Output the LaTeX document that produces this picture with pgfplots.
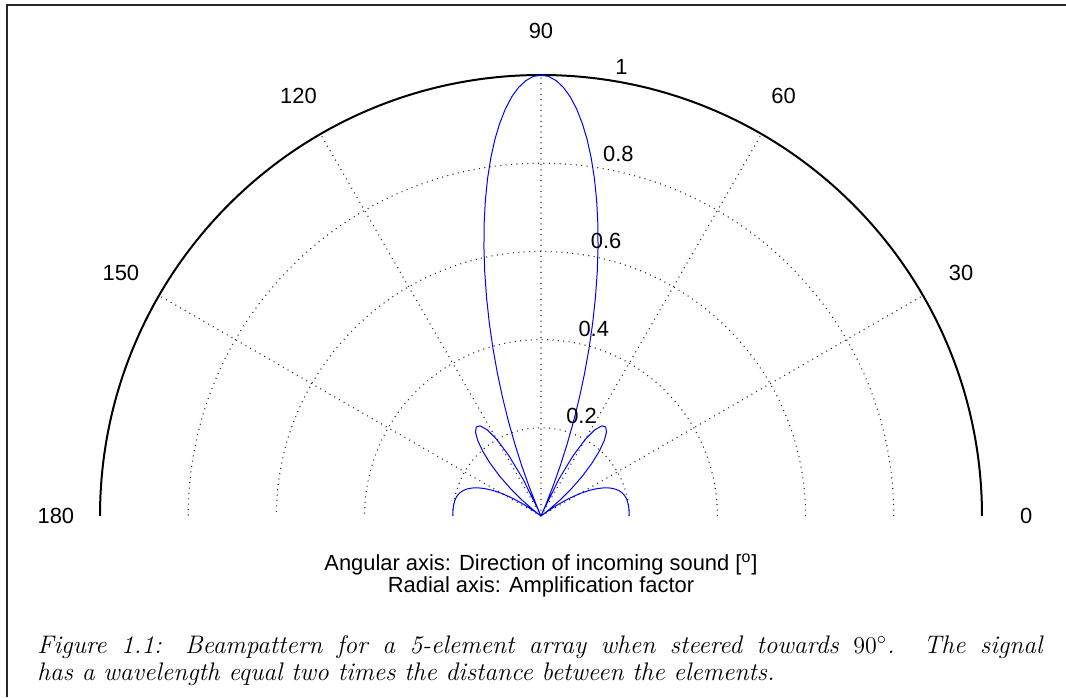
\documentclass[border=0pt]{standalone}
\usepackage{pgfplots}
\pgfplotsset{compat=1.18}
\usepgfplotslibrary{polar}
\usepackage{fontspec}
\newfontfamily\helv{Liberation Sans}
\newcommand\lab{\helv\fontsize{10.95}{13}\selectfont}
\pgfplotstableread{
theta r
0 0.2000
2 0.2000
4 0.2000
6 0.1998
8 0.1994
10 0.1986
12 0.1972
14 0.1948
16 0.1912
18 0.1860
20 0.1788
22 0.1693
24 0.1571
26 0.1419
28 0.1234
30 0.1014
32 0.0758
34 0.0469
36 0.0148
36.87 0
38 0.0199
40 0.0565
42 0.0939
44 0.1309
46 0.1659
48 0.1973
50 0.2230
52 0.2411
54 0.2496
56 0.2466
58 0.2305
60 0.2000
62 0.1543
64 0.0934
66 0.0177
66.42 0
67 0.0253
68 0.0714
69 0.1203
70 0.1719
71 0.2255
72 0.2809
73 0.3377
74 0.3949
75 0.4527
76 0.5102
77 0.5669
78 0.6221
79 0.6757
80 0.7266
81 0.7746
82 0.8190
83 0.8596
84 0.8954
85 0.9266
86 0.9526
87 0.9731
88 0.9878
89 0.9969
90 1.0000
91 0.9969
92 0.9878
93 0.9731
94 0.9526
95 0.9266
96 0.8954
97 0.8596
98 0.8190
99 0.7746
100 0.7266
101 0.6757
102 0.6221
103 0.5669
104 0.5102
105 0.4527
106 0.3949
107 0.3377
108 0.2809
109 0.2255
110 0.1719
111 0.1203
112 0.0714
113 0.0253
113.58 0
114 0.0177
116 0.0934
118 0.1543
120 0.2000
122 0.2305
124 0.2466
126 0.2496
128 0.2411
130 0.2230
132 0.1973
134 0.1659
136 0.1309
138 0.0939
140 0.0565
142 0.0199
143.13 0
144 0.0148
146 0.0469
148 0.0758
150 0.1014
152 0.1234
154 0.1419
156 0.1571
158 0.1693
160 0.1788
162 0.1860
164 0.1912
166 0.1948
168 0.1972
170 0.1986
172 0.1994
174 0.1998
176 0.2000
178 0.2000
180 0.2000
}\beampattern
\begin{document}
\begin{tikzpicture}
\path[use as bounding box] (0,0) rectangle (533pt,348.5pt);
\draw[line width=0.8pt, black!85] (3.5pt,0) -- (3.5pt,346pt) -- (533pt,346pt);
\begin{polaraxis}[
  at={(270.5pt,90.5pt)}, anchor=origin,
  scale only axis, width=441pt, height=441pt,
  xmin=0, xmax=180, ymin=0, ymax=1,
  xtick={30,60,90,120,150},
  ytick={0.2,0.4,0.6,0.8},
  xticklabels={}, yticklabels={},
  major tick length=0pt,
  xmajorgrids, ymajorgrids,
  major grid style={black!85, line width=0.55pt, dash pattern=on 0.5pt off 2.2pt},
  x axis line style={black, line width=1pt},
  y axis line style={draw=none},
  clip=false,
]
\addplot[blue, line width=0.5pt] table[x=theta, y=r] {\beampattern};
\foreach \a in {0,30,...,180} {
  \edef\temp{\noexpand\node[inner sep=0, font=\noexpand\lab] at (axis cs:\a,1.1) {\a};}
  \temp
}
\foreach \r/\l in {0.2/0.2,0.4/0.4,0.6/0.6,0.8/0.8,1/1} {
  \edef\temp{\noexpand\node[anchor=south west, inner sep=0, xshift=6pt, font=\noexpand\lab] at (axis cs:82,\r+0.01) {\l};}
  \temp
}
\end{polaraxis}
\node[anchor=base, inner sep=0, font=\lab] at (270.5pt,63.5pt) {Angular axis: Direction of incoming sound [\textsuperscript{o}]};
\node[anchor=base, inner sep=0, font=\lab] at (270.5pt,52.5pt) {Radial axis: Amplification factor};
\node[anchor=base west, inner sep=0, font=\fontsize{12.7}{14}\selectfont\itshape] at (18.5pt,22pt) {\makebox[502.5pt][s]{Figure 1.1: Beampattern for a 5-element array when steered towards $90^\circ$. The signal}};
\node[anchor=base west, inner sep=0, font=\fontsize{12.7}{14}\selectfont\itshape] at (18.5pt,8.5pt) {has a wavelength equal two times the distance between the elements.};
\end{tikzpicture}
\end{document}
